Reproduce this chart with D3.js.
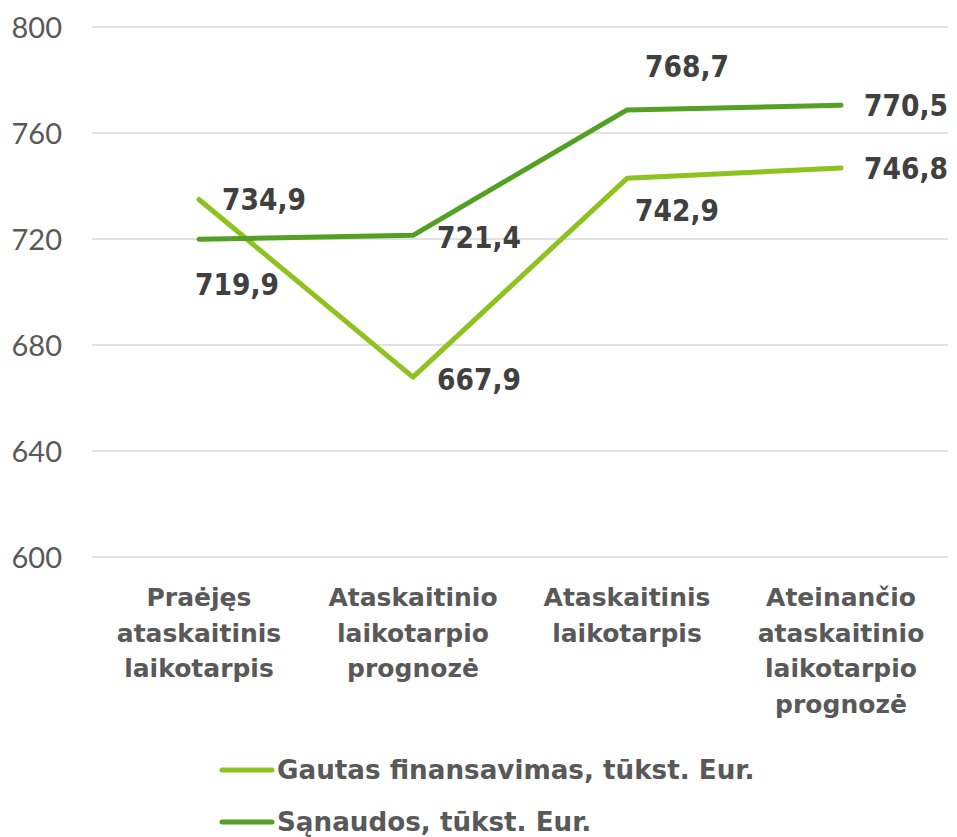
<!DOCTYPE html>
<html><head><meta charset="utf-8">
<script src="https://cdn.jsdelivr.net/npm/d3@7"></script>
<style>body{margin:0;background:#fff}svg{display:block}</style>
</head><body>
<svg id="chart" width="957" height="837"></svg>
<script>
const categories = [
  ["Praėjęs","ataskaitinis","laikotarpis"],
  ["Ataskaitinio","laikotarpio","prognozė"],
  ["Ataskaitinis","laikotarpis"],
  ["Ateinančio","ataskaitinio","laikotarpio","prognozė"]
];
const seriesNames = ["Gautas finansavimas, tūkst. Eur.", "Sąnaudos, tūkst. Eur."];
const gautas = [734.9, 667.9, 742.9, 746.8];
const sanaudos = [719.9, 721.4, 768.7, 770.5];
const yTicks = [600, 640, 680, 720, 760, 800];
const colors = ["#8dc21f", "#53a024"];
// label placement offsets (dx, dy) per point
const labelOffsets = [
  [[23,0],[24,2],[8,32],[23,0]],
  [[-4,45],[24,2],[18,-44],[23,0]]
];

const svg = d3.select("#chart");
const x = d3.scaleBand().domain(d3.range(categories.length)).range([92, 948]);
const y = d3.scaleLinear().domain([600, 800]).range([557, 27]);
const cx = i => x(i) + x.bandwidth()/2;

// gridlines
svg.append("g").selectAll("line").data(yTicks).join("line")
  .attr("x1", 92).attr("x2", 948)
  .attr("y1", d => y(d)).attr("y2", d => y(d))
  .attr("stroke", "#d9d9d9").attr("stroke-width", 1.5);

// y axis labels
const yAxis = d3.axisLeft(y).tickValues(yTicks).tickSize(0).tickPadding(0);
const ya = svg.append("g").attr("transform", "translate(62,0)").call(yAxis);
ya.select(".domain").remove();
ya.selectAll("text").attr("font-family", "Lato, sans-serif").attr("font-size", 29)
  .attr("fill", "#595959").attr("dy", "0.35em");

const boldFont = "'DejaVu Sans', sans-serif";
// category labels
const catG = svg.append("g");
categories.forEach((lines, i) => {
  const t = catG.append("text").attr("x", cx(i)).attr("y", 606)
    .attr("text-anchor", "middle").attr("font-family", boldFont)
    .attr("font-weight", "bold").attr("font-size", 25).attr("fill", "#595959");
  lines.forEach((l, j) => t.append("tspan").attr("x", cx(i)).attr("dy", j === 0 ? 0 : 35.7).text(l));
});

const allSeries = [gautas, sanaudos];
const line = d3.line().x((d, i) => cx(i)).y(d => y(d));
allSeries.forEach((s, k) => {
  svg.append("path").datum(s).attr("d", line).attr("fill", "none")
    .attr("stroke", colors[k]).attr("stroke-width", 5)
    .attr("stroke-linecap", "round").attr("stroke-linejoin", "round");
});
allSeries.forEach((s, k) => {
  svg.append("g").selectAll("text").data(s).join("text")
    .attr("x", (d, i) => cx(i) + labelOffsets[k][i][0])
    .attr("y", (d, i) => y(d) + labelOffsets[k][i][1])
    .attr("dy", "0.36em")
    .attr("font-family", "'DejaVu Sans Condensed', 'DejaVu Sans', sans-serif")
    .attr("font-weight", "bold").attr("font-size", 29.5).attr("fill", "#404040")
    .text(d => d3.format(".1f")(d).replace(".", ","));
});

// legend
const lg = svg.append("g");
seriesNames.forEach((n, k) => {
  const yy = 770 + k * 52;
  lg.append("line").attr("x1", 222).attr("x2", 272).attr("y1", yy).attr("y2", yy)
    .attr("stroke", colors[k]).attr("stroke-width", 5).attr("stroke-linecap", "round");
  lg.append("text").attr("x", 277).attr("y", yy).attr("dy", "0.36em")
    .attr("font-family", boldFont)
    .attr("font-weight", "bold").attr("font-size", 26.2).attr("fill", "#595959").text(n);
});
</script>
</body></html>
